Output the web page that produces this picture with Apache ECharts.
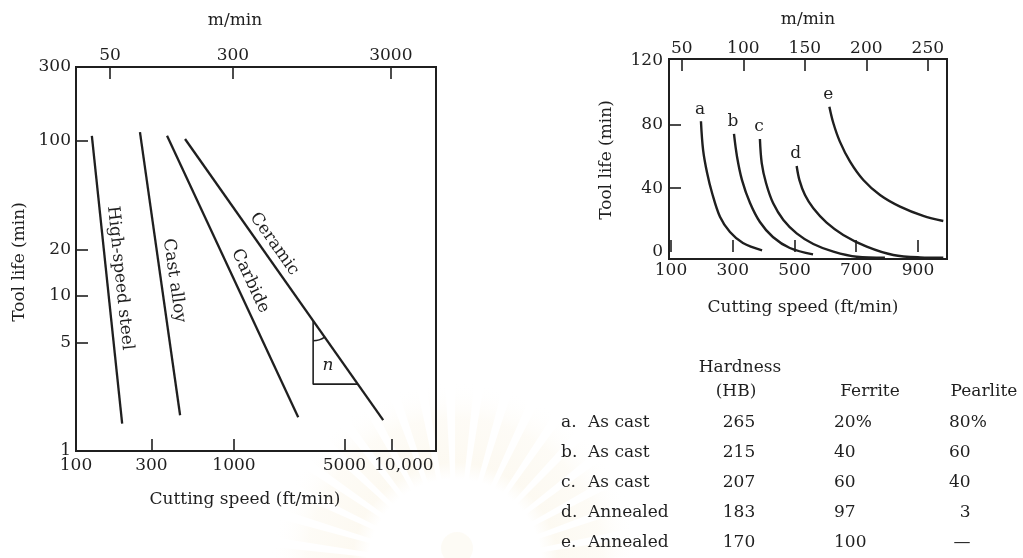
<!DOCTYPE html>
<html>
<head>
<meta charset="utf-8">
<script src="https://cdn.jsdelivr.net/npm/echarts@6/dist/echarts.min.js"></script>
<style>
  html, body { margin: 0; padding: 0; background: #ffffff; }
  #chart { width: 1023px; height: 558px; }
</style>
</head>
<body>
<div id="chart"></div>
<script>
// ---------- Left panel: Taylor tool-life lines (log–log) ----------
const toolMaterials = ['High-speed steel', 'Cast alloy', 'Carbide', 'Ceramic'];
// [start, end] cutting speed in ft/min
const taylorSpeeds = [[126, 196], [254, 456], [377, 2550], [490, 8800]];
// [start, end] tool life in min
const taylorLives = [[108, 1.5], [114, 1.7], [108, 1.65], [103, 1.58]];
// slope triangle drawn on the ceramic line
const triangleSpeed = 3170;
const triangleBaseLife = 2.7;

const leftSpeedTicks = [100, 300, 1000, 5000, 10000];
const leftMetricTicks = [50, 300, 3000];
const leftLifeTicks = [1, 5, 10, 20, 100, 300];
const leftLifeTickMarks = [5, 10, 20, 100];

// ---------- Right panel: cast iron tool-life curves ----------
const ironLetters = ['a', 'b', 'c', 'd', 'e'];
const speedA = [197, 204, 217, 233, 259, 291, 333, 395];
const lifeA  = [82, 63.9, 49.5, 37.0, 21.9, 12.5, 5.6, 1.0];
const speedB = [304, 314, 330, 356, 388, 430, 485, 560];
const lifeB  = [74, 59.6, 45.1, 30.7, 18.8, 9.4, 2.5, -1.5];
const speedC = [388, 394, 408, 431, 464, 507, 561, 626, 702, 793];
const lifeC  = [70.8, 55.6, 43.1, 30.5, 20.1, 11.7, 5.0, 0.2, -3.0, -3.6];
const speedD = [507, 516, 534, 561, 604, 658, 734, 820, 907, 982];
const lifeD  = [53.9, 45.1, 35.7, 27.4, 18.4, 10.7, 3.3, -1.9, -3.4, -3.6];
const speedE = [613, 626, 647, 680, 723, 777, 842, 917, 982];
const lifeE  = [91.1, 80.7, 69.2, 56.6, 45.1, 35.7, 28.4, 22.6, 19.4];

const rightSpeedTicks = [100, 300, 500, 700, 900];
const rightMetricTicks = [50, 100, 150, 200, 250];
const rightLifeTicks = [0, 40, 80, 120];
const rightLifeTickMarks = [40, 80];

// ---------- Table ----------
const tableHeaders = ['Hardness', '(HB)', 'Ferrite', 'Pearlite'];
const rowConditions = ['a.  As cast', 'b.  As cast', 'c.  As cast', 'd.  Annealed', 'e.  Annealed'];
const rowHardness = ['265', '215', '207', '183', '170'];
const rowFerrite = ['20%', '40', '60', '97', '100'];
const rowPearlite = ['80%', '60', '40', '\u20073', '—'];

// ---------- drawing ----------
const INK = '#1f1f1f';
const FONT = '"DejaVu Serif", "Liberation Serif", serif';
const FS = 17;
const FT_TO_M = 0.3048;
const lg = Math.log10;

function fmtLog(v) {
  const n = Math.round(Math.pow(10, v));
  return n >= 10000 ? n.toLocaleString('en-US') : String(n);
}

function axisBits(labelValues, tickValues, formatter, margin) {
  return {
    axisLine: { show: false },
    splitLine: { show: false },
    axisTick: {
      show: true, inside: true, length: 12,
      customValues: tickValues,
      lineStyle: { color: INK, width: 1.6 }
    },
    axisLabel: {
      customValues: labelValues,
      formatter: formatter,
      margin: margin,
      hideOverlap: false,
      showMinLabel: true, showMaxLabel: true,
      color: INK, fontFamily: FONT, fontSize: FS
    }
  };
}

const gridStyle = { show: true, borderColor: INK, borderWidth: 2, backgroundColor: 'transparent' };

const leftSeries = toolMaterials.map((name, i) => ({
  name: name,
  type: 'line',
  xAxisIndex: 0, yAxisIndex: 0,
  symbol: 'none',
  lineStyle: { color: INK, width: 2.3 },
  data: [
    [lg(taylorSpeeds[i][0]), lg(taylorLives[i][0])],
    [lg(taylorSpeeds[i][1]), lg(taylorLives[i][1])]
  ]
}));

// ceramic line in log space, used to close the slope triangle
const cer = 3;
const kCer = (lg(taylorLives[cer][1]) - lg(taylorLives[cer][0])) /
             (lg(taylorSpeeds[cer][1]) - lg(taylorSpeeds[cer][0]));
const cerLogLifeAt = lv => lg(taylorLives[cer][0]) + kCer * (lv - lg(taylorSpeeds[cer][0]));
const cerLogSpeedAt = lt => lg(taylorSpeeds[cer][0]) + (lt - lg(taylorLives[cer][0])) / kCer;

const triTop = [lg(triangleSpeed), cerLogLifeAt(lg(triangleSpeed))];
const triCorner = [lg(triangleSpeed), lg(triangleBaseLife)];
const triRight = [cerLogSpeedAt(lg(triangleBaseLife)), lg(triangleBaseLife)];

const triangleSeries = {
  name: 'slope', type: 'line', xAxisIndex: 0, yAxisIndex: 0,
  symbol: 'none', lineStyle: { color: INK, width: 1.6 },
  data: [triTop, triCorner, triRight]
};

const ironSpeeds = [speedA, speedB, speedC, speedD, speedE];
const ironLives = [lifeA, lifeB, lifeC, lifeD, lifeE];
const rightSeries = ironLetters.map((letter, i) => ({
  name: letter, type: 'line',
  xAxisIndex: 2, yAxisIndex: 1,
  symbol: 'none', smooth: 0.35,
  lineStyle: { color: INK, width: 2.4 },
  data: ironSpeeds[i].map((s, j) => [s, ironLives[i][j]])
}));

// the bottom speed scale of the left panel packs "5000" and "10,000"
// closely, so its labels are laid out by hand from the axis (see below)
const leftSpeedAxis = Object.assign({ gridIndex: 0, type: 'value', position: 'bottom',
  min: lg(100), max: lg(19000) },
  axisBits(leftSpeedTicks.map(lg), leftSpeedTicks.slice(1).map(lg), fmtLog, 6));
leftSpeedAxis.axisLabel = { show: false };

const option = {
  animation: false,
  backgroundColor: '#ffffff',
  textStyle: { fontFamily: FONT, color: INK },
  grid: [
    Object.assign({ left: 76, top: 67, width: 360, height: 384 }, gridStyle),
    Object.assign({ left: 669, top: 59, width: 278, height: 200 }, gridStyle)
  ],
  xAxis: [
    leftSpeedAxis,
    Object.assign({ gridIndex: 0, type: 'value', position: 'top',
      min: lg(100 * FT_TO_M), max: lg(19000 * FT_TO_M) },
      axisBits(leftMetricTicks.map(lg), leftMetricTicks.map(lg), fmtLog, 3)),
    Object.assign({ gridIndex: 1, type: 'value', position: 'bottom',
      min: 93.5, max: 994 },
      axisBits(rightSpeedTicks, rightSpeedTicks, null, 3)),
    Object.assign({ gridIndex: 1, type: 'value', position: 'top',
      min: 39.6, max: 265.6 },
      axisBits(rightMetricTicks, rightMetricTicks, null, 2))
  ],
  yAxis: [
    Object.assign({ gridIndex: 0, type: 'value', position: 'left',
      min: 0, max: lg(300) },
      axisBits(leftLifeTicks.map(lg), leftLifeTickMarks.map(lg), fmtLog, 5)),
    Object.assign({ gridIndex: 1, type: 'value', position: 'left',
      min: -4.4, max: 121 },
      axisBits(rightLifeTicks, rightLifeTickMarks, null, 6))
  ],
  series: leftSeries.concat([triangleSeries], rightSeries)
};

const chart = echarts.init(document.getElementById('chart'), null, { renderer: 'canvas' });
chart.setOption(option);

// ---------- overlay: titles, line captions, table, backdrop ----------
const els = [];

function txt(text, x, y, opts) {
  opts = opts || {};
  els.push({
    type: 'text', x: x, y: y, rotation: opts.rotation || 0, silent: true, z: 10,
    style: {
      text: text,
      font: (opts.italic ? 'italic ' : '') + (opts.size || FS) + 'px ' + FONT,
      fill: INK,
      align: opts.align || 'center', textAlign: opts.align || 'center',
      verticalAlign: opts.valign || 'middle', textVerticalAlign: opts.valign || 'middle'
    }
  });
}

// faint sunburst backdrop behind the lower middle
(function () {
  const cx = 455, cy = 566;
  const glow = {
    type: 'radial', x: cx, y: cy, r: 185, global: true,
    colorStops: [
      { offset: 0.0, color: 'rgba(245,232,200,0.0)' },
      { offset: 0.47, color: 'rgba(245,232,200,0.0)' },
      { offset: 0.56, color: 'rgba(245,232,200,0.24)' },
      { offset: 0.8, color: 'rgba(245,232,200,0.16)' },
      { offset: 1.0, color: 'rgba(255,255,255,0)' }
    ]
  };
  for (let a = 180; a < 360; a += 9) {
    els.push({
      type: 'sector', silent: true, z: -20,
      shape: { cx: cx, cy: cy, r0: 80, r: 185,
               startAngle: a * Math.PI / 180, endAngle: (a + 6) * Math.PI / 180 },
      style: { fill: glow }
    });
  }
  els.push({
    type: 'circle', silent: true, z: -20,
    shape: { cx: 457, cy: 548, r: 16 },
    style: { fill: 'rgba(245,232,200,0.18)' }
  });
})();

// bottom speed labels of the left panel: centred under each tick,
// nudged right when a label would run into its neighbour
(function () {
  const ctx = document.createElement('canvas').getContext('2d');
  ctx.font = FS + 'px ' + FONT;
  const rect = chart.getModel().getComponent('grid', 0).coordinateSystem.getRect();
  const minGap = 8;
  let prevRight = -Infinity;
  leftSpeedTicks.forEach(v => {
    const label = fmtLog(lg(v));
    const w = ctx.measureText(label).width;
    let cx = chart.convertToPixel({ xAxisIndex: 0 }, lg(v));
    if (cx - w / 2 < prevRight + minGap) cx = prevRight + minGap + w / 2;
    prevRight = cx + w / 2;
    txt(label, cx, rect.y + rect.height + 6, { valign: 'top' });
  });
})();

// axis titles
txt('m/min', 235, 21);
txt('Cutting speed (ft/min)', 245, 500);
txt('Tool life (min)', 20, 262, { rotation: Math.PI / 2 });
txt('m/min', 808, 20);
txt('Cutting speed (ft/min)', 803, 308);
txt('Tool life (min)', 607, 160, { rotation: Math.PI / 2 });

// captions along the Taylor lines
const captionAt = [0.499, 0.531, 0.537, 0.399];
const captionGap = [13, 13, 14, 12.5];
toolMaterials.forEach((name, i) => {
  const p1 = chart.convertToPixel({ seriesIndex: i }, leftSeries[i].data[0]);
  const p2 = chart.convertToPixel({ seriesIndex: i }, leftSeries[i].data[1]);
  const dx = p2[0] - p1[0], dy = p2[1] - p1[1];
  const len = Math.hypot(dx, dy);
  const ux = dx / len, uy = dy / len;
  const t = captionAt[i] * len;
  const x = p1[0] + ux * t + uy * captionGap[i];
  const y = p1[1] + uy * t - ux * captionGap[i];
  txt(name, x, y, { rotation: -Math.atan2(dy, dx) });
});

// slope triangle: angle mark and exponent symbol
(function () {
  const triIdx = toolMaterials.length;
  const pTop = chart.convertToPixel({ seriesIndex: triIdx }, triTop);
  const pCorner = chart.convertToPixel({ seriesIndex: triIdx }, triCorner);
  const pRight = chart.convertToPixel({ seriesIndex: triIdx }, triRight);
  const ang = Math.atan2(pRight[1] - pTop[1], pRight[0] - pTop[0]);
  els.push({
    type: 'arc', silent: true, z: 10,
    shape: { cx: pTop[0], cy: pTop[1], r: 20, startAngle: ang, endAngle: Math.PI / 2, clockwise: true },
    style: { stroke: INK, lineWidth: 1.4, fill: null }
  });
  txt('n', pCorner[0] + (pRight[0] - pCorner[0]) * 0.33,
      pTop[1] + (pCorner[1] - pTop[1]) * 0.71, { italic: true });
})();

// curve letters above the start of each cast-iron curve
ironLetters.forEach((letter, i) => {
  const p = chart.convertToPixel({ seriesIndex: toolMaterials.length + 1 + i }, rightSeries[i].data[0]);
  txt(letter, p[0] - 1, p[1] - 12);
});

// material table
txt(tableHeaders[0], 740, 368);
txt(tableHeaders[1], 736, 392);
txt(tableHeaders[2], 870, 392);
txt(tableHeaders[3], 984, 392);
rowConditions.forEach((cond, r) => {
  const y = 423 + r * 30;
  const parts = cond.split(/\s{2,}/);
  txt(parts[0], 561, y, { align: 'left' });
  txt(parts[1], 588, y, { align: 'left' });
  txt(rowHardness[r], 739, y);
  txt(rowFerrite[r], 834, y, { align: 'left' });
  if (rowPearlite[r] === '—') txt(rowPearlite[r], 962, y);
  else txt(rowPearlite[r], 949, y, { align: 'left' });
});

chart.setOption({ graphic: { elements: els } });
</script>
</body>
</html>
